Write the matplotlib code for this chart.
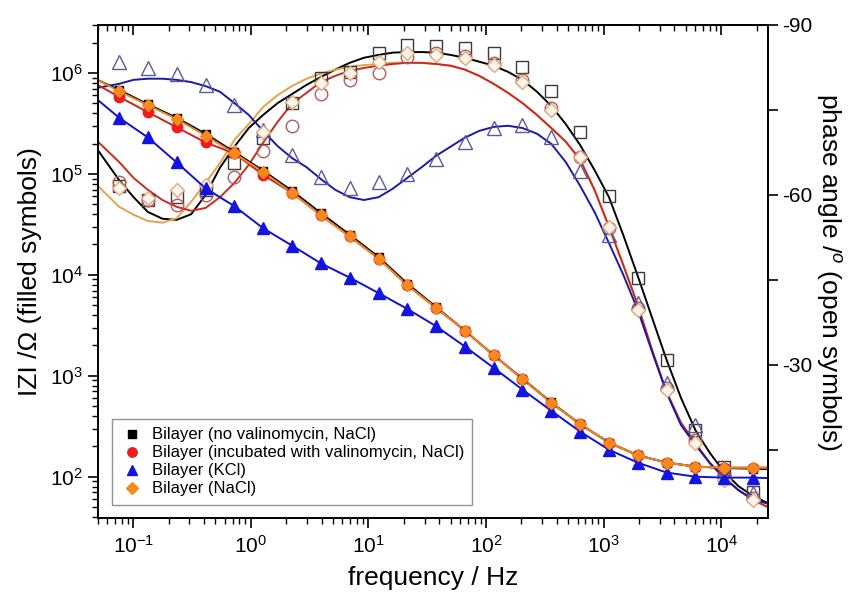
import matplotlib
matplotlib.use("Agg")
import matplotlib.pyplot as plt
from matplotlib.ticker import LogLocator, NullFormatter, FixedLocator

plt.rcParams['font.family'] = ['Liberation Sans', 'DejaVu Sans']
plt.rcParams['mathtext.fontset'] = 'custom'
plt.rcParams['mathtext.rm'] = 'Liberation Sans'
plt.rcParams['mathtext.it'] = 'Liberation Sans:italic'
plt.rcParams['axes.unicode_minus'] = False

# частоты измерений, Гц
freq = [0.0759, 0.133, 0.234, 0.412, 0.724, 1.27, 2.24, 3.94, 6.92, 12.2, 21.4, 37.6,
        66.1, 116, 204, 359, 631, 1110, 1950, 3430, 6030, 10600, 18600]

# |Z|, Ом (закрашенные символы)
z_black = [6.8e5, 4.9e5, 3.6e5, 2.5e5, 1.65e5, 1.08e5, 6.8e4, 4.1e4, 2.5e4, 1.5e4, 8.2e3, 4.8e3,
           2.8e3, 1.6e3, 940, 545, 332, 218, 163, 138, 126, 122, 120]
z_red = [5.8e5, 4.1e5, 2.9e5, 2.05e5, 1.6e5, 9.8e4, 6.5e4, 3.9e4, 2.4e4, 1.45e4, 7.9e3, 4.7e3,
         2.8e3, 1.6e3, 930, 540, 330, 218, 163, 138, 126, 123, 123]
z_blue = [3.6e5, 2.3e5, 1.3e5, 7.2e4, 4.8e4, 2.9e4, 1.95e4, 1.3e4, 9.4e3, 6.6e3, 4.6e3, 3.1e3,
          1.95e3, 1.2e3, 730, 450, 280, 185, 138, 110, 100, 98, 98]
z_orange = [6.6e5, 4.8e5, 3.5e5, 2.4e5, 1.6e5, 1.05e5, 6.5e4, 3.9e4, 2.4e4, 1.45e4, 7.9e3, 4.7e3,
            2.8e3, 1.6e3, 930, 540, 330, 218, 163, 138, 126, 123, 123]

# фаза, град. (открытые символы)
ph_black = [-61.6, -59.1, -59.6, -60.9, -65.6, -70.1, -76.2, -80.6, -81.7, -85.1, -86.5, -86.3,
            -85.9, -85.1, -82.6, -78.4, -71.1, -59.8, -45.4, -30.9, -18.5, -12.0, -7.6]
ph_red = [-62.3, -59.1, -58.2, -60.0, -63.2, -67.8, -72.2, -77.8, -80.3, -81.5, -84.4, -85.1,
          -84.5, -83.3, -80.3, -75.4, -66.7, -54.2, -40.1, -25.9, -16.8, -10.1, -6.5]
ph_blue = [-83.5, -82.4, -81.4, -79.4, -75.9, -71.5, -67.1, -63.2, -61.2, -62.3, -63.7, -66.4,
           -69.4, -71.8, -72.4, -70.2, -64.2, -53.0, -40.9, -26.8, -19.4, -11.8, -7.4]
ph_orange = [-61.2, -59.5, -60.9, -61.8, -67.6, -71.1, -76.4, -79.8, -81.5, -83.5, -85.1, -84.7,
             -84.2, -82.9, -79.9, -75.0, -66.7, -54.4, -39.7, -25.6, -16.2, -9.7, -6.2]

# аппроксимация |Z| (линии)
fz = [0.05] + freq + [25000]
zf_black = [8.5e5] + z_black + [119]
zf_red = [7.6e5] + z_red + [123]
zf_blue = [5.4e5] + z_blue + [97]
zf_orange = [8.5e5] + z_orange + [123]

# аппроксимация фазы (линии)
fph = [0.05, 0.0759, 0.1006, 0.133, 0.177, 0.234, 0.311, 0.412, 0.546, 0.724, 0.960, 1.27,
       1.69, 2.24, 2.97, 3.94, 5.22, 6.92, 9.17, 12.2, 16.1, 21.4, 28.4, 37.6, 49.8, 66.1,
       87.6, 116, 154, 204, 271, 359, 476, 631, 836, 1110, 1470, 1950, 2585, 3430, 4545,
       6030, 7990, 10600, 14040, 18600, 25000]
pf_black = [-67.9, -62.6, -59.6, -57.0, -55.8, -55.6, -56.6, -60.0, -64.8, -68.5, -71.8, -74.1,
            -76.2, -77.8, -79.4, -80.8, -82.1, -83.3, -84.2, -84.7, -85.1, -85.2, -85.2, -85.1,
            -84.7, -84.2, -83.5, -82.8, -81.7, -80.3, -78.2, -75.7, -72.5, -68.8, -64.4, -59.6,
            -52.9, -45.7, -38.3, -30.9, -24.2, -18.5, -14.5, -11.1, -8.6, -6.9, -5.6]
pf_red = [-69.4, -65.8, -63.0, -60.9, -59.1, -57.9, -57.2, -57.7, -59.6, -62.1, -65.3, -69.2,
          -72.9, -76.1, -78.0, -79.9, -81.0, -81.9, -82.4, -82.8, -83.1, -83.3, -83.3, -83.1,
          -82.8, -82.1, -81.0, -79.6, -78.0, -76.2, -74.1, -71.8, -69.4, -66.2, -60.9, -54.4,
          -47.6, -40.6, -32.6, -25.2, -19.8, -16.2, -12.7, -10.1, -7.9, -6.2, -4.9]
pf_blue = [-78.9, -79.6, -80.3, -80.5, -80.5, -80.3, -79.9, -79.2, -78.2, -76.2, -74.1, -71.3,
           -68.6, -66.5, -64.9, -62.8, -60.9, -59.6, -59.1, -59.6, -61.1, -63.0, -64.9, -66.9,
           -68.5, -70.1, -71.3, -72.0, -72.2, -71.8, -70.8, -69.0, -65.8, -61.6, -57.0, -51.5,
           -45.9, -39.7, -32.3, -25.1, -19.4, -15.9, -12.7, -10.1, -7.9, -6.3, -5.5]
pf_orange = [-61.6, -57.9, -56.5, -55.4, -55.1, -55.9, -58.8, -62.1, -65.6, -69.7, -72.5, -75.5,
             -77.6, -79.2, -80.5, -81.4, -82.1, -82.6, -82.9, -83.1, -83.3, -83.3, -83.3, -83.1,
             -82.8, -82.1, -81.0, -79.6, -78.0, -76.2, -74.1, -71.8, -69.4, -66.2, -60.9, -54.4,
             -47.6, -40.6, -32.6, -25.2, -19.8, -16.2, -12.7, -10.1, -7.9, -6.2, -4.9]

labels = ['Bilayer (no valinomycin, NaCl)',
          'Bilayer (incubated with valinomycin, NaCl)',
          'Bilayer (KCl)',
          'Bilayer (NaCl)']

fig = plt.figure(figsize=(8.51, 5.92), dpi=100)
ax = fig.add_axes([0.115, 0.125, 0.7875, 0.833])
ax2 = ax.twinx()

# |Z|
ax.plot(fz, zf_black, color='#000000', lw=1.4, zorder=2)
ax.plot(fz, zf_red, color='#d42020', lw=1.4, zorder=2)
ax.plot(fz, zf_blue, color='#1010d0', lw=1.4, zorder=2)
ax.plot(fz, zf_orange, color='#e88a20', lw=1.4, zorder=2)
ax.plot(freq, z_black, 's', color='#000000', ms=6, zorder=3, label=labels[0])
ax.plot(freq, z_red, 'o', color='#ee1c1c', ms=7.5, zorder=3, label=labels[1])
ax.plot(freq, z_blue, '^', color='#1414e0', ms=8, zorder=3, label=labels[2])
ax.plot(freq, z_orange, 'D', color='#f5891e', ms=6.5, zorder=4, label=labels[3])

# фаза
ax2.plot(fph, pf_black, color='#000000', lw=1.4)
ax2.plot(fph, pf_orange, color='#e8a04a', lw=1.4)
ax2.plot(fph, pf_red, color='#cc2a20', lw=1.4)
ax2.plot(fph, pf_blue, color='#1a1aa8', lw=1.4)
ax2.plot(freq, ph_black, 's', mfc='none', mec='#3a3a3a', mew=1.0, ms=8)
ax2.plot(freq, ph_red, 'o', mfc='none', mec='#b85a5a', mew=1.0, ms=9)
ax2.plot(freq, ph_blue, '^', mfc='none', mec='#5a5a9a', mew=1.0, ms=10)
ax2.plot(freq, ph_orange, 'D', mfc='#fff4ea', mec='#d8aa80', mew=1.0, ms=7.5)

ax.set_xscale('log')
ax.set_yscale('log')
ax.set_xlim(0.05, 25000)
ax.set_ylim(39, 3e6)
ax2.set_ylim(-3, -90)

ax.xaxis.set_major_locator(LogLocator(base=10, numticks=20))
ax.xaxis.set_minor_locator(LogLocator(base=10, subs=range(2, 10), numticks=20))
ax.xaxis.set_minor_formatter(NullFormatter())
ax.yaxis.set_major_locator(LogLocator(base=10, numticks=20))
ax.yaxis.set_minor_locator(LogLocator(base=10, subs=range(2, 10), numticks=20))
ax.yaxis.set_minor_formatter(NullFormatter())
ax2.yaxis.set_major_locator(FixedLocator([-90, -60, -30]))
ax2.yaxis.set_minor_locator(FixedLocator([-75, -45, -15]))

# верхняя ось: засечки внутрь
top = ax.secondary_xaxis('top')
top.xaxis.set_major_locator(LogLocator(base=10, numticks=20))
top.xaxis.set_minor_locator(LogLocator(base=10, subs=range(2, 10), numticks=20))
top.xaxis.set_minor_formatter(NullFormatter())
top.tick_params(which='both', direction='in', labeltop=False)
top.tick_params(which='major', length=7, width=1.2)
top.tick_params(which='minor', length=4, width=1.0)
top.spines['top'].set_linewidth(1.3)

ax.tick_params(axis='x', which='both', direction='out', labelsize=15, pad=5)
ax.tick_params(axis='y', which='both', direction='out', labelsize=15)
ax.tick_params(which='major', length=7, width=1.2)
ax.tick_params(which='minor', length=4, width=1.0)
ax2.tick_params(axis='y', which='major', direction='out', length=7, width=1.2, labelsize=15)
ax2.tick_params(axis='y', which='minor', direction='out', length=7, width=1.2)
for a in (ax, ax2):
    for s in a.spines.values():
        s.set_linewidth(1.3)

ax.set_xlabel('frequency / Hz', fontsize=19, labelpad=7)
ax.set_ylabel('IZI /Ω (filled symbols)', fontsize=19, labelpad=6)
ax2.set_ylabel('phase angle /$^{o}$ (open symbols)', fontsize=19, rotation=270, labelpad=22)

leg = ax.legend(loc='lower left', fontsize=12, frameon=True, fancybox=False,
                edgecolor='#777777', handletextpad=0.5, borderpad=0.5, labelspacing=0.18,
                handlelength=1.4, bbox_to_anchor=(0.008, 0.01), markerscale=0.9)
leg.get_frame().set_linewidth(1.0)
leg.set_zorder(10)
ax.set_zorder(ax2.get_zorder() + 1)
ax.patch.set_visible(False)

fig.savefig('out.png', dpi=100)
